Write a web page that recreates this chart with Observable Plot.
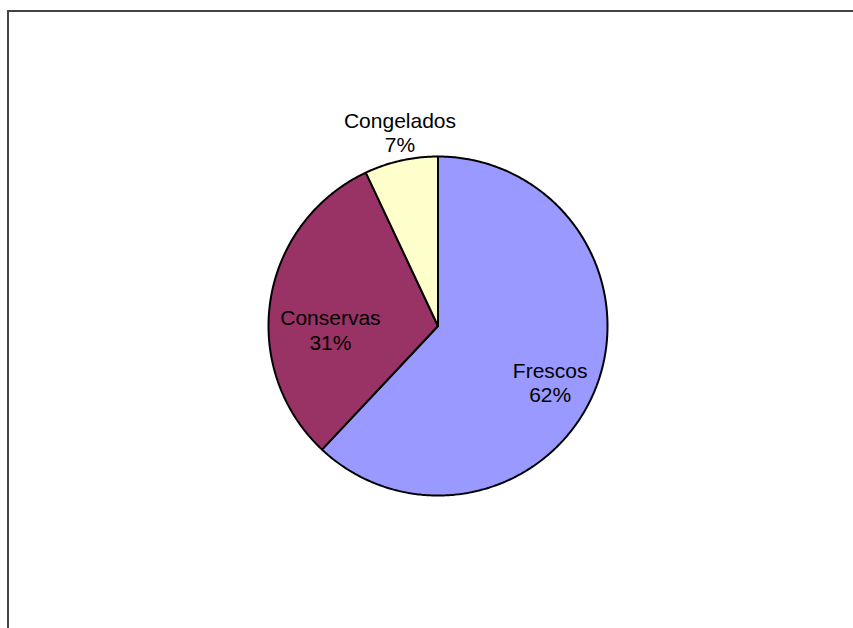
<!DOCTYPE html>
<html><head><meta charset="utf-8">
<script src="https://cdn.jsdelivr.net/npm/d3@7"></script>
<script src="https://cdn.jsdelivr.net/npm/@observablehq/plot@0.6"></script>
<style>
html,body{margin:0;padding:0;background:#fff;overflow:hidden}
#wrap{position:relative;width:853px;height:628px;overflow:hidden}
#frame{position:absolute;left:7px;top:10px;width:900px;height:700px;border-top:2px solid #444;border-left:2px solid #444}
#chart{position:absolute;left:0;top:0}
</style></head><body>
<div id="wrap"><div id="frame"></div><div id="chart"></div></div>
<script>
// Data
const categories = ["Frescos", "Conservas", "Congelados"];
const shares = [62, 31, 7];
const percentLabels = ["62%", "31%", "7%"];
const colors = ["#9999FF", "#993366", "#FFFFCC"];

// Label layout (radius as fraction of pie radius, angular nudge in degrees)
const labelLayout = {
  Frescos: {r: 0.74, da: 5},
  Conservas: {r: 0.635, da: -11},
  Congelados: {r: 1.165, da: 1.5}
};

const arcs = d3.pie().sort(null).value(d => d)(shares);

// Slice outlines in unit-circle coordinates (y up)
const slicePts = [];
arcs.forEach((a, i) => {
  const cat = categories[i];
  slicePts.push({cat, x: 0, y: 0});
  const n = Math.max(2, Math.ceil((a.endAngle - a.startAngle) / 0.01));
  for (let k = 0; k <= n; k++) {
    const t = a.startAngle + (a.endAngle - a.startAngle) * k / n;
    slicePts.push({cat, x: Math.sin(t), y: Math.cos(t)});
  }
  slicePts.push({cat, x: 0, y: 0});
});

const labels = arcs.map((a, i) => {
  const L = labelLayout[categories[i]];
  const mid = (a.startAngle + a.endAngle) / 2 + L.da * Math.PI / 180;
  return {cat: categories[i], text: categories[i] + "\n" + percentLabels[i],
          x: L.r * Math.sin(mid), y: L.r * Math.cos(mid)};
});

const cx = 437.5, cy = 325.5, R = 169.5;

const chart = Plot.plot({
  width: 853,
  height: 628,
  margin: 0,
  style: {fontFamily: "'Liberation Sans', Arial, sans-serif", background: "transparent"},
  x: {domain: [-1, 1], range: [cx - R, cx + R], axis: null},
  y: {domain: [-1, 1], range: [cy + R, cy - R], axis: null},
  color: {domain: categories, range: colors},
  marks: [
    Plot.line(slicePts, {x: "x", y: "y", z: "cat", fill: "cat", stroke: "black", strokeWidth: 2, strokeLinejoin: "miter"}),
    Plot.text(labels, {x: "x", y: "y", text: "text", fontSize: 21, lineHeight: 1.15, fill: "black"})
  ]
});
document.getElementById("chart").appendChild(chart);
</script>
</body></html>
